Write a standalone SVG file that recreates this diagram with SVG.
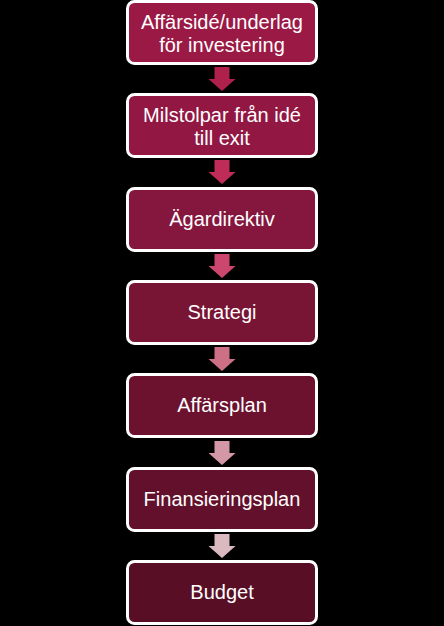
<svg xmlns="http://www.w3.org/2000/svg" width="444" height="626" viewBox="0 0 444 626">
<style>
.box{stroke:#fff;stroke-width:3}
.t{font-family:"Liberation Sans",Arial,sans-serif;font-size:20px;fill:#fff;text-anchor:middle}
</style>
<defs>
<path id="arr" d="M-7.5,0 H7.5 V12 H13.5 L0,24 L-13.5,12 H-7.5 Z"/>
</defs>
<rect width="444" height="626" fill="#000"/>
<g id="connectors">
<use href="#arr" x="222" y="67" fill="#b0204c"/>
<use href="#arr" x="222" y="160" fill="#bf2c58"/>
<use href="#arr" x="222" y="254" fill="#cc466d"/>
<use href="#arr" x="222" y="347" fill="#cd7085"/>
<use href="#arr" x="222" y="441" fill="#d397a5"/>
<use href="#arr" x="222" y="534" fill="#dbb9c0"/>
</g>
<g id="n1"><rect class="box" x="127.5" y="1.5" width="189" height="62" rx="7" fill="#9b1945"/>
<text class="t" x="222" y="29">Affärsidé/underlag</text><text class="t" x="222" y="52">för investering</text></g>
<g id="n2"><rect class="box" x="127.5" y="94.5" width="189" height="62" rx="7" fill="#921743"/>
<text class="t" x="222" y="122">Milstolpar från idé</text><text class="t" x="222" y="145">till exit</text></g>
<g id="n3"><rect class="box" x="127.5" y="188.5" width="189" height="62" rx="7" fill="#85163e"/>
<text class="t" x="222" y="226">Ägardirektiv</text></g>
<g id="n4"><rect class="box" x="127.5" y="281.5" width="189" height="62" rx="7" fill="#781434"/>
<text class="t" x="222" y="319">Strategi</text></g>
<g id="n5"><rect class="box" x="127.5" y="374.5" width="189" height="62" rx="7" fill="#6c122f"/>
<text class="t" x="222" y="412">Affärsplan</text></g>
<g id="n6"><rect class="box" x="127.5" y="468.5" width="189" height="62" rx="7" fill="#62102b"/>
<text class="t" x="222" y="506">Finansieringsplan</text></g>
<g id="n7"><rect class="box" x="127.5" y="561.5" width="189" height="62" rx="7" fill="#580f26"/>
<text class="t" x="222" y="599">Budget</text></g>
</svg>
